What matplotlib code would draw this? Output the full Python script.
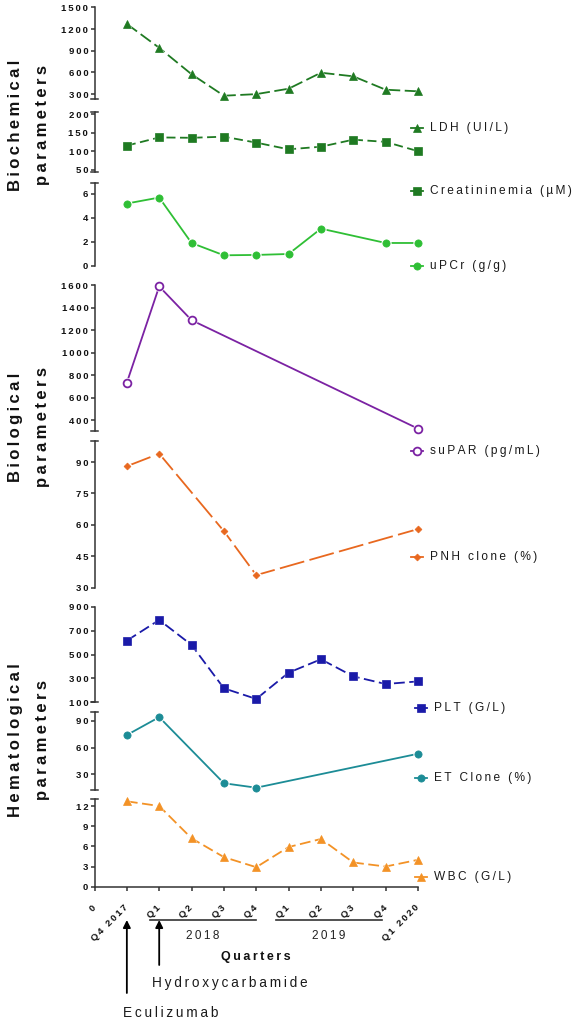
import matplotlib
matplotlib.use("Agg")
import matplotlib.pyplot as plt
from matplotlib import transforms

plt.rcParams['font.family'] = ['Liberation Sans', 'DejaVu Sans']

W, H = 579, 1024

# data (x = quarter index, 1 = Q4 2017 ... 10 = Q1 2020)
tick_labels = ['0', 'Q4 2017', 'Q1', 'Q2', 'Q3', 'Q4', 'Q1', 'Q2', 'Q3', 'Q4', 'Q1 2020']
all_q = [1, 2, 3, 4, 5, 6, 7, 8, 9, 10]

ldh = [1270, 940, 575, 278, 300, 375, 596, 546, 361, 339]
creatinine = [115, 137, 136, 139, 123, 105, 112, 131, 125, 100]
upcr_q = [1, 2, 3, 4, 5, 6, 7, 9, 10]
upcr = [5.2, 5.7, 1.9, 0.87, 0.9, 0.98, 3.1, 1.9, 1.9]
supar_q = [1, 2, 3, 10]
supar = [735, 1590, 1290, 326]
pnh_q = [1, 2, 4, 5, 10]
pnh = [88, 94, 57, 36, 58]
platelets = [616, 789, 580, 217, 128, 348, 460, 317, 253, 275]
et_q = [1, 2, 4, 5, 10]
et_clone = [74, 94, 20, 15, 53]
wbc = [12.7, 12.0, 7.2, 4.4, 2.9, 5.9, 7.1, 3.6, 3.0, 4.0]

years = ['2018', '2019']
year_spans = [(1.72, 4.99), (5.61, 8.89)]
treatments = ['Eculizumab', 'Hydroxycarbamide']
treatment_q = [1, 2]

group_titles = ['Biochemical\nparameters', 'Biological\nparameters', 'Hematological\nparameters']


def sp(s):
    # wide letter spacing like the original figure
    return '\u2009'.join(s)


X0, X1 = 94.5, 418.0

# name, x, y, colour, marker, linestyle, ylim, yticks, (top, bottom) px, legend y px, caps (bottom, top)
panels = [
    ('LDH (UI/L)', all_q, ldh, '#1f7a22', '^', (0, (7, 2.5)), (230, 1500),
     [300, 600, 900, 1200, 1500], (7.3, 99.2), 128, (True, False)),
    ('Creatininemia (µM)', all_q, creatinine, '#1f7a22', 's', (0, (5, 2.5)), (45, 206),
     [50, 100, 150, 200], (111.8, 171.6), 191, (True, True)),
    ('uPCr (g/g)', upcr_q, upcr, '#2fbf35', 'o', '-', (0, 6.9),
     [0, 2, 4, 6], (183.2, 265.7), 266, (False, True)),
    ('suPAR (pg/mL)', supar_q, supar, '#7b22a3', 'o', '-', (305, 1600),
     [400, 600, 800, 1000, 1200, 1400, 1600], (285.3, 431.0), 451, (True, False)),
    ('PNH clone (%)', pnh_q, pnh, '#e8681f', 'D', (0, (14, 3)), (30, 100),
     [30, 45, 60, 75, 90], (441.1, 587.7), 557, (False, True)),
    ('PLT (G/L)', all_q, platelets, '#1a1aa8', 's', (0, (6, 2.5)), (100, 900),
     [100, 300, 500, 700, 900], (606.7, 702.3), 708, (True, False)),
    ('ET Clone (%)', et_q, et_clone, '#1c8c96', 'o', '-', (13, 100),
     [30, 60, 90], (711.8, 789.5), 778, (True, True)),
    ('WBC (G/L)', all_q, wbc, '#f39226', '^', (0, (6, 2.5)), (0, 13),
     [0, 3, 6, 9, 12], (799.3, 886.7), 877, (False, True)),
]

fig = plt.figure(figsize=(W / 100, H / 100), dpi=100)
ov = fig.add_axes([0, 0, 1, 1])
ov.set_xlim(0, W)
ov.set_ylim(H, 0)
ov.axis('off')

axes = []
for (name, xs, ys, col, mk, ls, ylim, yt, (top, bot), ly, caps) in panels:
    ax = fig.add_axes([X0 / W, 1 - bot / H, (X1 - X0) / W, (bot - top) / H])
    ax.patch.set_alpha(0)
    ax.set_xlim(0, 10)
    ax.set_ylim(*ylim)
    for s in ['top', 'right', 'bottom']:
        ax.spines[s].set_visible(False)
    ax.spines['left'].set_linewidth(1.1)
    ax.spines['left'].set_color('#333333')
    ax.set_xticks([])
    ax.set_yticks(yt, labels=[sp(str(t)) for t in yt], fontweight='bold', fontsize=6.8)
    ax.tick_params(axis='y', direction='out', length=3, width=1.1, pad=1.5,
                   color='#333333', labelcolor='#111111')

    ms = 5.2
    mfc = col
    if name.startswith('suPAR'):
        mfc = 'white'
        ms = 5.6
    if mk == 'D':
        ms = 3.5
    ax.plot(xs, ys, color=col, ls=ls, lw=1.3, clip_on=False)
    ax.plot(xs, ys, ls='none', marker=mk, ms=ms + 1.2, mfc='white', mec='white',
            mew=1.0, clip_on=False)
    ax.plot(xs, ys, ls='none', marker=mk, ms=ms, mfc=mfc, mec=col,
            mew=1.3 if mfc == 'white' else 0.5, clip_on=False)

    # axis break caps
    for flag, yy in zip(caps, (0, 1)):
        if flag:
            ax.plot([-0.011, 0.011], [yy, yy], color='#333333', lw=1.1,
                    transform=ax.transAxes, clip_on=False)

    # legend entry
    lx = 417 if ly < 600 else 421
    ov.plot([lx - 6, lx + 6], [ly, ly], color=col, lw=1.3)
    ov.plot(lx, ly, ls='none', marker=mk, ms=ms, mfc=mfc, mec=col,
            mew=1.3 if mfc == 'white' else 0.5)
    ov.text(lx + 13, ly, sp(name), fontsize=8.6, va='center', ha='left', color='#1a1a1a')
    axes.append(ax)

# bottom axis with quarters
axw = axes[-1]
axw.spines['bottom'].set_visible(True)
axw.spines['bottom'].set_linewidth(1.1)
axw.spines['bottom'].set_color('#333333')
axw.set_xticks(range(11))
axw.set_xticklabels([sp(t) for t in tick_labels], rotation=45, ha='right', va='center',
                    rotation_mode='anchor', fontweight='bold', fontsize=6.8, color='#111111')
axw.tick_params(axis='x', direction='out', length=3, width=1.1, pad=11, color='#333333')

tr = transforms.blended_transform_factory(axw.transData, ov.transData)
for yr, (a, b) in zip(years, year_spans):
    ov.plot([a, b], [920, 920], color='#333333', lw=1.2, transform=tr)
    ov.text((a + b) / 2, 936, sp(yr), transform=tr, ha='center', va='center',
            fontsize=8.5, color='#222222')
ov.text(5.0, 957, sp('Quarters'), transform=tr, ha='center', va='center',
        fontsize=9, fontweight='bold', color='#111111')

arrow_tail = [993, 965]
label_y = [1013, 983]
label_x = [0.88, 1.78]
for name, q, ty, lyy, lxx in zip(treatments, treatment_q, arrow_tail, label_y, label_x):
    ov.annotate('', xy=(q, 920), xytext=(q, ty), xycoords=tr, textcoords=tr,
                arrowprops=dict(arrowstyle='-|>', color='black', lw=1.3,
                                mutation_scale=11, shrinkA=0, shrinkB=0))
    ov.text(lxx, lyy, sp(name), transform=tr, ha='left', va='center',
            fontsize=9.8, color='#1a1a1a')

# group titles
title_y = [125, 427, 740]
for t, yy in zip(group_titles, title_y):
    l1, l2 = t.split('\n')
    ov.text(15.5, yy, sp(l1), rotation=90, ha='center', va='center',
            fontsize=12, fontweight='bold', color='#111111')
    ov.text(42, yy, sp(l2), rotation=90, ha='center', va='center',
            fontsize=12, fontweight='bold', color='#111111')

fig.savefig('out.png', dpi=100)
